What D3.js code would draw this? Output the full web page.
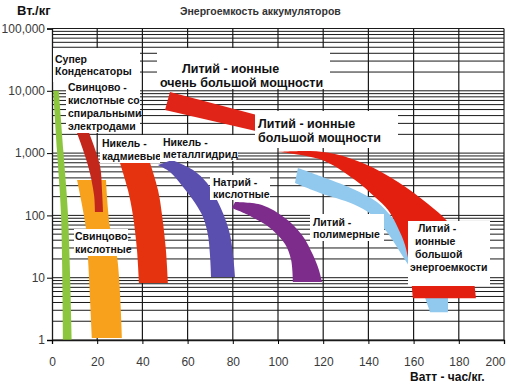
<!DOCTYPE html>
<html>
<head>
<meta charset="utf-8">
<script src="https://cdn.jsdelivr.net/npm/d3@7"></script>
<style>
body { margin: 0; background: #fff; }
svg { display: block; font-family: "Liberation Sans", Arial, sans-serif; }
.lbl { font-weight: bold; font-size: 10.5px; fill: #111; }
.big { font-weight: bold; font-size: 12.5px; fill: #111; }
.tick text { font-size: 12px; fill: #3a3a3a; font-family: "Liberation Sans", Arial, sans-serif; }
</style>
</head>
<body>
<svg width="510" height="386"></svg>
<script>
// axis values
const xTicks = [0, 20, 40, 60, 80, 100, 120, 140, 160, 180, 200];
const yTicks = [1, 10, 100, 1000, 10000, 100000];
const yTickLabels = ["1", "10", "100", "1,000", "10,000", "100,000"];

// each band = two edges in (Wh/kg, W/kg), top to bottom
const superCapA = [[0.5, 10000], [2.2, 1100], [4, 100], [4.9, 1]];
const superCapB = [[3, 10000], [5, 1100], [7.1, 100], [8.8, 1]];

const leadAcidA = [[11.1, 370], [15.0, 63], [15.9, 21.5], [17.7, 1.08]];
const leadAcidB = [[23.9, 370], [25.7, 63], [28.8, 21.5], [31.0, 1.08]];

const spiralA = [[10.6, 2350], [15.9, 640], [18.6, 212], [19.0, 113]];
const spiralB = [[15.9, 2350], [21.2, 640], [22.1, 255], [22.6, 113]];

const nicdA = [[30.1, 693], [33.6, 256], [35.8, 101], [37.6, 27.8], [38.5, 8.2]];
const nicdB = [[43.4, 693], [46.9, 256], [48.7, 101], [50.4, 27.8], [51.3, 8.2]];

const nimhA = [[46.9, 644], [52.2, 497], [58.0, 286], [63.3, 158], [66.8, 94], [69.0, 48.5], [69.9, 23.1], [70.4, 10.3]];
const nimhB = [[53.1, 775], [62.4, 535], [68.6, 331], [73.0, 177], [76.5, 91], [78.8, 48.5], [80.1, 23.1], [81.0, 10.3]];

const sodiumA = [[79.6, 131], [87.6, 98], [96.5, 63], [103.1, 34.7], [105.8, 19.2], [106.6, 8.5]];
const sodiumB = [[81.0, 164], [92.9, 147], [103.1, 91], [110.6, 48.5], [115.5, 23.1], [118.1, 13.3], [119.5, 8.5]];

const liVeryHighA = [[52.2, 9600], [94, 3800]];
const liVeryHighB = [[50, 4900], [94, 2100]];

const liPolyA = [[107.5, 331], [118.6, 229], [133.2, 152], [141.6, 101], [148.2, 54], [154.0, 25.8], [162.8, 7.6], [167.3, 2.8]];
const liPolyB = [[108.8, 577], [118.6, 429], [133.2, 265], [143.8, 164], [150.4, 94], [156.2, 52], [165.0, 23.1], [174.3, 7.6], [175.2, 2.8]];

const liHighA = [[100.5, 1050], [114.2, 1081], [125.2, 968], [138.5, 668], [153.1, 344], [166.4, 152], [175.2, 78], [181.4, 33.5], [185.8, 13.3], [187.6, 4.7]];
const liHighB = [[100.5, 1040], [119.5, 775], [134.1, 370], [142.9, 197], [148.7, 122], [153.1, 63], [156.2, 33.5], [158.4, 13.3], [159.7, 4.7]];

const svg = d3.select("svg");

const x = d3.scaleLinear().domain([0, 200]).range([52, 504]);
const y = d3.scaleLog().domain([1, 100000]).range([340, 28.5]);

// grid
let minor = [];
for (let d = 1; d < 100000; d *= 10) {
    for (let k = 1; k < 10; k++) minor.push(d * k);
}
minor.push(100000);

svg.append("g")
    .selectAll("line")
    .data(minor)
    .join("line")
    .attr("x1", x(0)).attr("x2", x(200))
    .attr("y1", d => y(d)).attr("y2", d => y(d))
    .attr("stroke", "#1a1a1a")
    .attr("stroke-width", 1);

svg.append("g")
    .selectAll("line")
    .data(xTicks.slice(1))
    .join("line")
    .attr("x1", d => x(d)).attr("x2", d => x(d))
    .attr("y1", y(100000)).attr("y2", y(1))
    .attr("stroke", "#1a1a1a")
    .attr("stroke-width", 1.2);

// bands
const edge = d3.line()
    .x(d => x(d[0]))
    .y(d => y(d[1]))
    .curve(d3.curveCatmullRom.alpha(0.5));

function bandPath(a, b) {
    return edge(a) + "L" + edge(b.slice().reverse()).slice(1) + "Z";
}

const bands = [
    [superCapA, superCapB, "#8cc63e"],
    [leadAcidA, leadAcidB, "#f8a11c"],
    [spiralA, spiralB, "#c3261b"],
    [nicdA, nicdB, "#e5330f"],
    [nimhA, nimhB, "#5a4fae"],
    [sodiumA, sodiumB, "#7d2c8c"],
    [liVeryHighA, liVeryHighB, "#e02418"],
    [liPolyA, liPolyB, "#90c8ee"],
    [liHighA, liHighB, "#e3200f"]
];

svg.append("g")
    .selectAll("path")
    .data(bands)
    .join("path")
    .attr("d", d => bandPath(d[0], d[1]))
    .attr("fill", d => d[2]);

// axes
const yAxis = svg.append("g")
    .attr("transform", `translate(${x(0)},0)`)
    .call(d3.axisLeft(y).tickValues(yTicks).tickFormat((d, i) => yTickLabels[i]).tickSize(5).tickPadding(2));
yAxis.select(".domain").attr("stroke", "#1a1a1a").attr("stroke-width", 1.3);

const xAxis = svg.append("g")
    .attr("transform", `translate(0,${y(1)})`)
    .call(d3.axisBottom(x).tickValues(xTicks).tickSize(4).tickPadding(13));
xAxis.select(".domain").attr("stroke", "#1a1a1a").attr("stroke-width", 1.3);
xAxis.selectAll(".tick text").attr("dx", d => d === 200 ? -9 : 0);

// labels on white
const labels = [
    { box: [53, 48, 87, 34], x: 55, ys: [63, 75], lines: ["Супер", "Конденсаторы"], cls: "lbl" },
    { box: [157, 48, 173, 41], x: [182, 160], ys: [73, 87], lines: ["Литий - ионные", "очень большой мощности"], cls: "big" },
    { box: [66, 80, 74, 53], x: 68, ys: [91, 104, 117, 130], lines: ["Свинцово -", "кислотные со", "спиральными", "электродами"], cls: "lbl" },
    { box: [100, 135, 60, 28], x: 102, ys: [147, 160], lines: ["Никель -", "кадмиевые"], cls: "lbl" },
    { box: [160, 135, 78, 26], x: 163, ys: [146, 158], lines: ["Никель -", "металлгидрид"], cls: "lbl" },
    { box: [210, 175, 60, 25], x: 213, ys: [186, 198], lines: ["Натрий -", "кислотные"], cls: "lbl" },
    { box: [255, 111, 143, 37], x: 258, ys: [128, 142], lines: ["Литий - ионные", "большой мощности"], cls: "big" },
    { box: [310, 214, 74, 27], x: 313, ys: [226, 238], lines: ["Литий -", "полимерные"], cls: "lbl" },
    { box: [408, 221, 82, 65], x: [418, 415, 415, 410], ys: [232, 245, 258, 271], lines: ["Литий -", "ионные", "большой", "энергоемкости"], cls: "lbl" },
    { box: [74, 229, 54, 27], x: 75, ys: [240, 253], lines: ["Свинцово-", "кислотные"], cls: "lbl" }
];

const lg = svg.append("g");
labels.forEach(l => {
    lg.append("rect")
        .attr("x", l.box[0]).attr("y", l.box[1])
        .attr("width", l.box[2]).attr("height", l.box[3])
        .attr("fill", "#fff");
    l.lines.forEach((t, i) => {
        lg.append("text")
            .attr("class", l.cls)
            .attr("x", Array.isArray(l.x) ? l.x[i] : l.x)
            .attr("y", l.ys[i])
            .text(t);
    });
});

// titles
svg.append("text")
    .attr("x", 180).attr("y", 15)
    .attr("font-size", "10.5px").attr("font-weight", "bold").attr("fill", "#333")
    .text("Энергоемкость аккумуляторов");

svg.append("text")
    .attr("x", 17).attr("y", 15)
    .attr("font-size", "13px").attr("font-weight", "bold").attr("fill", "#111")
    .text("Вт./кг");

svg.append("text")
    .attr("x", 410).attr("y", 381)
    .attr("font-size", "12px").attr("font-weight", "bold").attr("fill", "#111")
    .text("Ватт - час/кг.");
</script>
</body>
</html>
